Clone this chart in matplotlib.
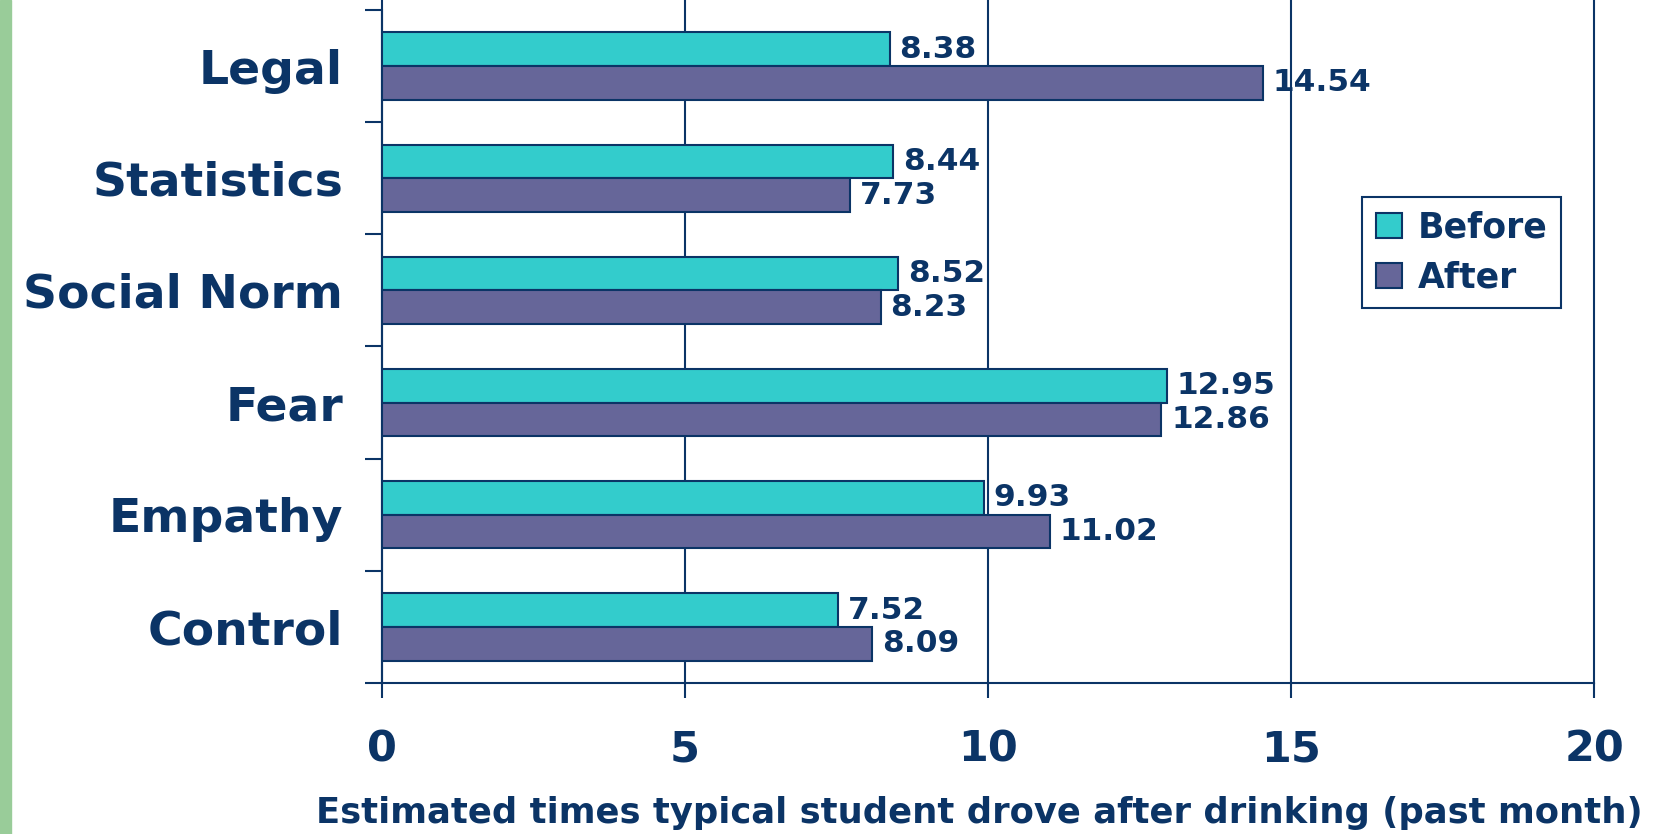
import matplotlib
matplotlib.use("Agg")
from matplotlib import pyplot as plt
import numpy as np

# data, bottom to top
groups = ["Control", "Empathy", "Fear", "Social Norm", "Statistics", "Legal"]
before = [7.52, 9.93, 12.95, 8.52, 8.44, 8.38]
after = [8.09, 11.02, 12.86, 8.23, 7.73, 14.54]
x_ticks = [0, 5, 10, 15, 20]
x_label = "Estimated times typical student drove after drinking (past month)"

navy = "#0b3466"
cyan = "#33cccc"
purple = "#666699"

plt.rcParams['font.family'] = ['DejaVu Sans']
plt.rcParams['font.weight'] = 'bold'

fig = plt.figure(figsize=(16.75, 8.34), dpi=100)
ax = fig.add_axes([382 / 1675, 1 - 683 / 834, (1594 - 382) / 1675, 683 / 834])

# green stripe on the left edge
fig.patches.append(plt.Rectangle((0, 0), 11 / 1675, 1, transform=fig.transFigure,
                                 color="#99cc99", zorder=0))

y = np.arange(len(groups))
h = 0.3
b1 = ax.barh(y + h / 2, before, height=h, color=cyan, edgecolor=navy, linewidth=1.5, label="Before", zorder=3)
b2 = ax.barh(y - h / 2, after, height=h, color=purple, edgecolor=navy, linewidth=1.5, label="After", zorder=3)

for bars, vals in ((b1, before), (b2, after)):
    for bar, v in zip(bars, vals):
        ax.annotate(f"{v:.2f}", (v, bar.get_y() + bar.get_height() / 2),
                    xytext=(7, 0), textcoords="offset points", va="center", ha="left",
                    fontsize=22.5, color=navy, fontweight="bold", zorder=4)

ax.set_xlim(0, 20)
ax.set_ylim(-0.5, 5.5 + 10 / 112.17)

ax.set_xticks(x_ticks)
ax.set_xticklabels([str(t) for t in x_ticks], fontsize=31, color=navy, fontweight="bold")
ax.tick_params(axis="x", direction="out", length=11, width=1.5, color=navy, pad=22)

ax.set_yticks(y)
ax.set_yticklabels(groups, fontsize=34, color=navy, fontweight="bold")
ax.set_yticks(np.arange(-0.5, 6, 1), minor=True)
ax.tick_params(axis="y", which="major", length=0, pad=28)
ax.tick_params(axis="y", which="minor", direction="out", length=12, width=1.5, color=navy)

ax.set_xlabel(x_label, fontsize=25.5, color=navy, fontweight="bold")
ax.xaxis.set_label_coords(0.493, -0.165)

ax.grid(axis="x", color=navy, linewidth=1.5)
for gl in ax.get_xgridlines():
    gl.set_clip_on(False)
ax.set_axisbelow(True)

for s in ("top", "right"):
    ax.spines[s].set_visible(False)
ax.spines["left"].set_bounds(-0.5, 5.5)
for s in ("left", "bottom"):
    ax.spines[s].set_color(navy)
    ax.spines[s].set_linewidth(1.5)

leg = ax.legend(handles=[b1, b2], loc="upper left", bbox_to_anchor=(1362 / 1675, 1 - 197 / 834),
                bbox_transform=fig.transFigure, borderaxespad=0, fancybox=False,
                fontsize=25, handlelength=0.75, handleheight=0.75, handletextpad=0.45,
                labelspacing=0.45, borderpad=0.4, framealpha=1)
leg.get_frame().set_edgecolor(navy)
leg.get_frame().set_linewidth(1.5)
for t in leg.get_texts():
    t.set_color(navy)
    t.set_fontweight("bold")

fig.savefig("out.png", dpi=100)
